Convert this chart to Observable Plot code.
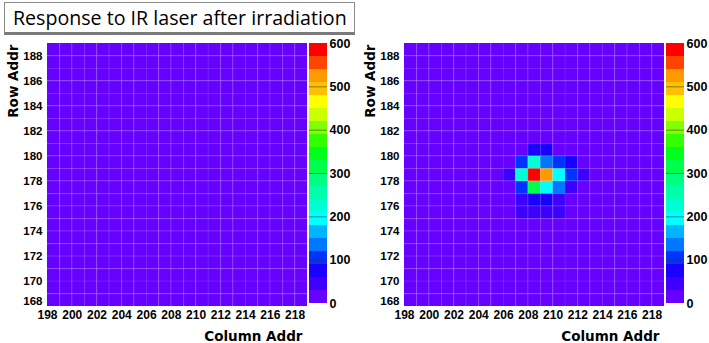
<!DOCTYPE html>
<html>
<head>
<meta charset="utf-8">
<script src="https://cdn.jsdelivr.net/npm/d3@7"></script>
<script src="https://cdn.jsdelivr.net/npm/@observablehq/plot@0.6"></script>
<style>
  html, body { margin: 0; padding: 0; background: #fff; }
  #root { position: relative; width: 709px; height: 343px; overflow: hidden; background: #fff; }
  .abs { position: absolute; }
  #title { position: absolute; left: 4px; top: 2px; width: 349px; height: 29px; border: 1px solid #8a8a8a; border-bottom: 3px solid #7a7a7a; box-sizing: content-box; background: #fff; }
  #title span { position: absolute; left: 8px; top: 1px; font-family: "Open Sans", sans-serif; font-size: 19px; white-space: nowrap; color: #000; line-height: 28px; }
</style>
</head>
<body>
<div id="root">
  <div id="title"><span id="titleText">Response to IR laser after irradiation</span></div>
</div>
<script>
// ---- data ----
const columns = [198,199,200,201,202,203,204,205,206,207,208,209,210,211,212,213,214,215,216,217,218];
const rows = [168,169,170,171,172,173,174,175,176,177,178,179,180,181,182,183,184,185,186,187,188];
const xTicks = [198,200,202,204,206,208,210,212,214,216,218];
const yTicks = [170,172,174,176,178,180,182,184,186,188];
const yBottomTick = [168];
const zTicks = [0,100,200,300,400,500,600];
// contour level edges (20 levels) and palette
const levelEdges = [0,30,60,90,120,150,180,210,240,270,300,330,360,390,420,450,480,510,540,570,600];
const palette = ["#6600ff","#3d00ff","#1a00ff","#0033ff","#0077ff","#00b4ff","#00ffff","#00ffd4","#00ffaa","#00ff80",
                 "#00ff4d","#00ff1a","#33ff00","#80ff00","#ccff00","#ffff00","#ffc000","#ff9900","#ff4400","#ff0000"];
// left panel: no hits above first level
const leftHitCols = [];
const leftHitRows = [];
const leftHitValues = [];
// right panel: laser spot
const rightHitCols   = [208,209, 207,208,209,210,211, 206,207,208,209,210,211,212, 207,208,209,210,211, 207,208,209,210, 207,208,209,210];
const rightHitRows   = [180,180, 179,179,179,179,179, 178,178,178,178,178,178,178, 177,177,177,177,177, 176,176,176,176, 175,175,175,175];
const rightHitValues = [ 75, 75, 105,225,140,105, 75,  45,225,590,520,195,100, 45, 100,310,195,125, 45,  45, 75, 75, 45,  40, 40, 40, 40];

// ---- build tables ----
function buildCells(hc, hr, hv) {
  const cells = [];
  for (const r of rows) for (const c of columns) {
    let v = 0;
    for (let i = 0; i < hc.length; i++) if (hc[i] === c && hr[i] === r) v = hv[i];
    cells.push({col: c, row: r, value: v});
  }
  return cells;
}
const bands = levelEdges.slice(0, -1).map((lo, i) => ({lo, hi: levelEdges[i + 1]}));
const thresholds = levelEdges.slice(1, -1);
const colorOpts = {type: "threshold", domain: thresholds, range: palette};
const boundaries = columns.concat([219]);
const rowBoundaries = rows.concat([189]);

const tickFont = {fontFamily: "Liberation Sans, Arial, sans-serif", fontWeight: "bold", fontSize: "12px", color: "#000", background: "transparent", overflow: "visible"};

function panel(cells, left) {
  const p = Plot.plot({
    width: 312, height: 343,
    marginLeft: 47, marginRight: 5, marginTop: 43, marginBottom: 37,
    x: {domain: [198, 219], label: null},
    y: {domain: [168, 189], label: null},
    color: colorOpts,
    style: tickFont,
    marks: [
      Plot.rect(cells, {x1: "col", x2: d => d.col + 1, y1: "row", y2: d => d.row + 1, fill: "value"}),
      Plot.ruleX(boundaries.slice(1, -1), {stroke: "#ffffff", strokeOpacity: 0.09}),
      Plot.ruleY(rowBoundaries.slice(1, -1), {stroke: "#ffffff", strokeOpacity: 0.09}),
      Plot.axisX(xTicks, {tickSize: 0, tickPadding: 4, tickFormat: d => String(d), fontSize: 12}),
      Plot.axisY(yTicks, {tickSize: 0, tickPadding: 5, tickFormat: d => String(d), fontSize: 11.5}),
      Plot.axisY(yBottomTick, {tickSize: 0, tickPadding: 5, dy: -5, tickFormat: d => String(d), fontSize: 11.5}),
      Plot.text(["Column Addr"], {frameAnchor: "bottom-right", textAnchor: "end", lineAnchor: "bottom", dx: -5, dy: 34,
        fontFamily: "DejaVu Sans, sans-serif", fontWeight: "bold", fontSize: 13.5, fill: "#000"}),
      Plot.text(["Row Addr"], {frameAnchor: "top-left", textAnchor: "end", lineAnchor: "middle", rotate: -90, dx: -34, dy: 1,
        fontFamily: "DejaVu Sans, sans-serif", fontWeight: "bold", fontSize: 13.5, fill: "#000"})
    ]
  });
  p.classList.add("abs");
  p.style.left = left + "px";
  p.style.top = "0px";
  return p;
}

function colorbar(left) {
  const p = Plot.plot({
    width: 52, height: 343,
    marginLeft: 0, marginRight: 34, marginTop: 43, marginBottom: 40,
    x: {domain: [0, 1], axis: null},
    y: {domain: [0, 600], label: null},
    color: colorOpts,
    style: tickFont,
    marks: [
      Plot.rect(bands, {x1: 0, x2: 1, y1: "lo", y2: "hi", fill: "lo"}),
      Plot.tickY(zTicks.slice(1, -1), {x1: 0.72, x2: 1.12, stroke: "#333", strokeOpacity: 0.55, strokeWidth: 1}),
      Plot.axisY(zTicks, {anchor: "right", tickSize: 0, tickPadding: 2, tickFormat: d => String(d), fontSize: 12.5})
    ]
  });
  p.classList.add("abs");
  p.style.left = left + "px";
  p.style.top = "0px";
  return p;
}

const root = document.getElementById("root");
root.appendChild(panel(buildCells(leftHitCols, leftHitRows, leftHitValues), 0));
root.appendChild(colorbar(309));
root.appendChild(panel(buildCells(rightHitCols, rightHitRows, rightHitValues), 357));
root.appendChild(colorbar(666));
// keep title on top
root.appendChild(document.getElementById("title"));

// fit title text width to reference (~334px)
(function () {
  const el = document.getElementById("titleText");
  const w = el.getBoundingClientRect().width;
  if (w > 0) {
    const fs = 19 * 334 / w;
    el.style.fontSize = Math.max(15, Math.min(22, fs)) + "px";
  }
})();
</script>
</body>
</html>
